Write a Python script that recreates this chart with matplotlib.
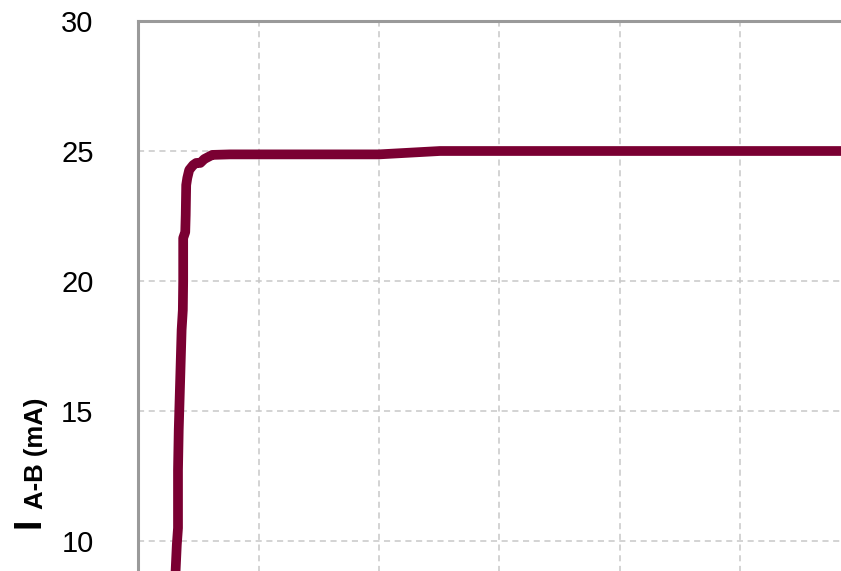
import matplotlib
matplotlib.use("Agg")
import matplotlib.pyplot as plt

# current trace (x in grid units, y in mA)
x_vals = [0.30, 0.312, 0.322, 0.332, 0.332, 0.338, 0.350, 0.362, 0.372, 0.375,
          0.375, 0.392, 0.396, 0.400, 0.409, 0.425, 0.458, 0.483, 0.517, 0.550,
          0.583, 0.616, 0.763, 2.0, 2.506, 6.2]
i_ab = [8.3, 8.85, 9.85, 10.50, 12.73, 14.27, 16.19, 18.12, 18.88, 20.0,
        21.65, 21.88, 22.54, 23.69, 23.96, 24.27, 24.46, 24.54, 24.54, 24.69,
        24.77, 24.85, 24.87, 24.87, 25.0, 25.0]

y_ticks = [10, 15, 20, 25, 30]
x_ticks = [0, 1, 2, 3, 4, 5, 6]

plt.rcParams["font.family"] = ["Liberation Sans", "DejaVu Sans"]

fig = plt.figure(figsize=(8.41, 5.71), dpi=100)
# axes extends past the figure edges (the reference is a crop)
ax = fig.add_axes([138 / 841, 1 - 21 / 571 - 780 / 571, 6 * 120.5 / 841, 780 / 571])

ax.plot(x_vals, i_ab, color="#7A0032", linewidth=7, solid_capstyle="butt",
        solid_joinstyle="round", zorder=3)

ax.set_xlim(0, 6)
ax.set_ylim(0, 30)
ax.set_xticks(x_ticks)
ax.set_yticks(y_ticks)
ax.set_xticklabels([])
ax.tick_params(axis="both", length=0)
ax.tick_params(axis="y", labelsize=21, pad=32)

ax.grid(True, color="#C8C8C8", linestyle=(0, (4, 3)), linewidth=1.1)
ax.set_axisbelow(True)

for side in ["right", "bottom"]:
    ax.spines[side].set_visible(False)
for side in ["left", "top"]:
    ax.spines[side].set_color("#9A9A9A")
    ax.spines[side].set_linewidth(2.2)

# y label: big "I" with bold subscript
fig.text(39 / 841, 1 - 528 / 571, "I", rotation=90, rotation_mode="anchor",
         ha="left", va="baseline", fontsize=27, fontweight="bold")
fig.text(43 / 841, 1 - 509 / 571, "A-B (mA)", rotation=90, rotation_mode="anchor",
         ha="left", va="baseline", fontsize=18.5, fontweight="bold")

fig.savefig("out.png", dpi=100)
